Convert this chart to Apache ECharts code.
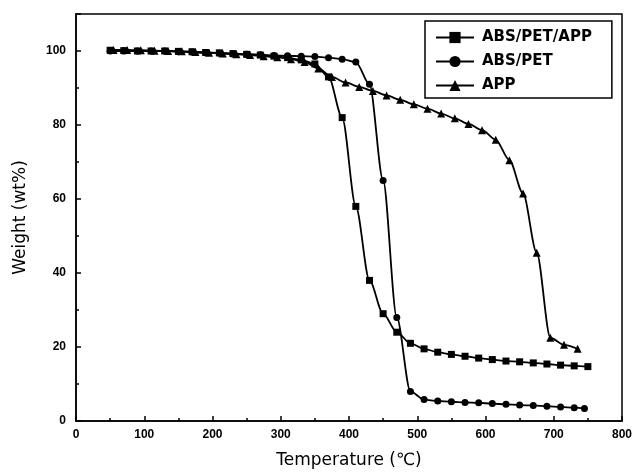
<!DOCTYPE html>
<html>
<head>
<meta charset="utf-8">
<script src="https://cdn.jsdelivr.net/npm/echarts@6/dist/echarts.min.js"></script>
<style>html,body{margin:0;padding:0;background:#fff;}#c{width:636px;height:476px;}</style>
</head>
<body>
<div id="c"></div>
<script>
const seriesNames = ['ABS/PET/APP', 'ABS/PET', 'APP'];
const tempsAbsPetApp = [50,70,90,110,130,150,170,190,210,230,250,270,290,310,330,350,370,390,410,430,450,470,490,510,530,550,570,590,610,630,650,670,690,710,730,750];
const absPetApp = [100.2,100.1,100,100,100,99.9,99.8,99.6,99.5,99.3,99.1,98.9,98.6,98.2,97.6,96.5,93,82,58,38,29,24,21,19.5,18.6,18,17.5,17,16.6,16.2,16,15.7,15.4,15.1,14.9,14.7];
const tempsAbsPet = [50,70,90,110,130,150,170,190,210,230,250,270,290,310,330,350,370,390,410,430,450,470,490,510,530,550,570,590,610,630,650,670,690,710,730,745];
const absPet = [100,100,100,100,100,99.8,99.7,99.5,99.4,99.2,99.1,99,98.8,98.7,98.6,98.5,98.2,97.8,97,91,65,28,8,5.8,5.4,5.2,5,4.9,4.7,4.5,4.3,4.2,4,3.8,3.6,3.4];
const tempsApp = [55,75,95,115,135,155,175,195,215,235,255,275,295,315,335,355,375,395,415,435,455,475,495,515,535,555,575,595,615,635,655,675,695,715,735];
const app = [100.3,100.3,100.2,100.1,100,99.9,99.7,99.5,99.3,99.1,98.9,98.6,98.3,97.8,97,95.3,93,91.5,90.3,89.2,88,86.8,85.6,84.4,83.1,81.8,80.3,78.6,76,70.5,61.5,45.5,22.5,20.6,19.5];
const xTicks = [0,100,200,300,400,500,600,700,800];
const yTicks = [0,20,40,60,80,100];

const pair = (t, v) => t.map((x, i) => [x, v[i]]);
const symbols = ['rect', 'circle', 'triangle'];
const sizes = [7, 7, 8];
const datas = [pair(tempsAbsPetApp, absPetApp), pair(tempsAbsPet, absPet), pair(tempsApp, app)];

const chart = echarts.init(document.getElementById('c'), null, {renderer: 'canvas'});
chart.setOption({
  animation: false,
  backgroundColor: '#fff',
  grid: {left: 76, right: 14, top: 14, bottom: 55, show: true, borderColor: '#000', borderWidth: 1.5},
  xAxis: {
    type: 'value', min: xTicks[0], max: xTicks[xTicks.length-1], interval: 100,
    name: 'Temperature (℃)', nameLocation: 'middle', nameGap: 31,
    nameTextStyle: {fontFamily: 'DejaVu Sans', fontSize: 17, color: '#000'},
    axisLine: {lineStyle: {color: '#000', width: 1.5}},
    axisTick: {inside: true, length: 5, lineStyle: {color: '#000', width: 1.5}},
    minorTick: {show: true, splitNumber: 2, length: 3, lineStyle: {color: '#000', width: 1.5}},
    splitLine: {show: false},
    axisLabel: {margin: 8, fontFamily: 'Liberation Sans', fontWeight: 'bold', fontSize: 12, color: '#000'}
  },
  yAxis: {
    type: 'value', min: 0, max: 110, interval: 20,
    name: 'Weight (wt%)', nameLocation: 'middle', nameGap: 47,
    nameTextStyle: {fontFamily: 'DejaVu Sans', fontSize: 17, color: '#000'},
    axisLine: {lineStyle: {color: '#000', width: 1.5}},
    axisTick: {inside: true, length: 5, lineStyle: {color: '#000', width: 1.5}},
    minorTick: {show: true, splitNumber: 2, length: 3, lineStyle: {color: '#000', width: 1.5}},
    splitLine: {show: false},
    axisLabel: {margin: 10, showMaxLabel: false, fontFamily: 'Liberation Sans', fontWeight: 'bold', fontSize: 12, color: '#000'}
  },
  legend: {
    data: seriesNames, orient: 'vertical', left: 425, top: 21,
    padding: [9, 20, 5, 10], itemWidth: 38, itemHeight: 14, itemGap: 9,
    borderColor: '#000', borderWidth: 1.5, backgroundColor: '#fff',
    textStyle: {fontFamily: 'DejaVu Sans', fontWeight: 'bold', fontSize: 15, color: '#000', padding: [0, 0, 0, 3]}
  },
  series: seriesNames.map((n, i) => ({
    name: n, type: 'line', data: datas[i], smooth: 0.3, smoothMonotone: 'x',
    symbol: symbols[i], symbolSize: sizes[i], showAllSymbol: true,
    color: '#000', itemStyle: {color: '#000'},
    lineStyle: {color: '#000', width: 1.8}
  }))
});
</script>
</body>
</html>
